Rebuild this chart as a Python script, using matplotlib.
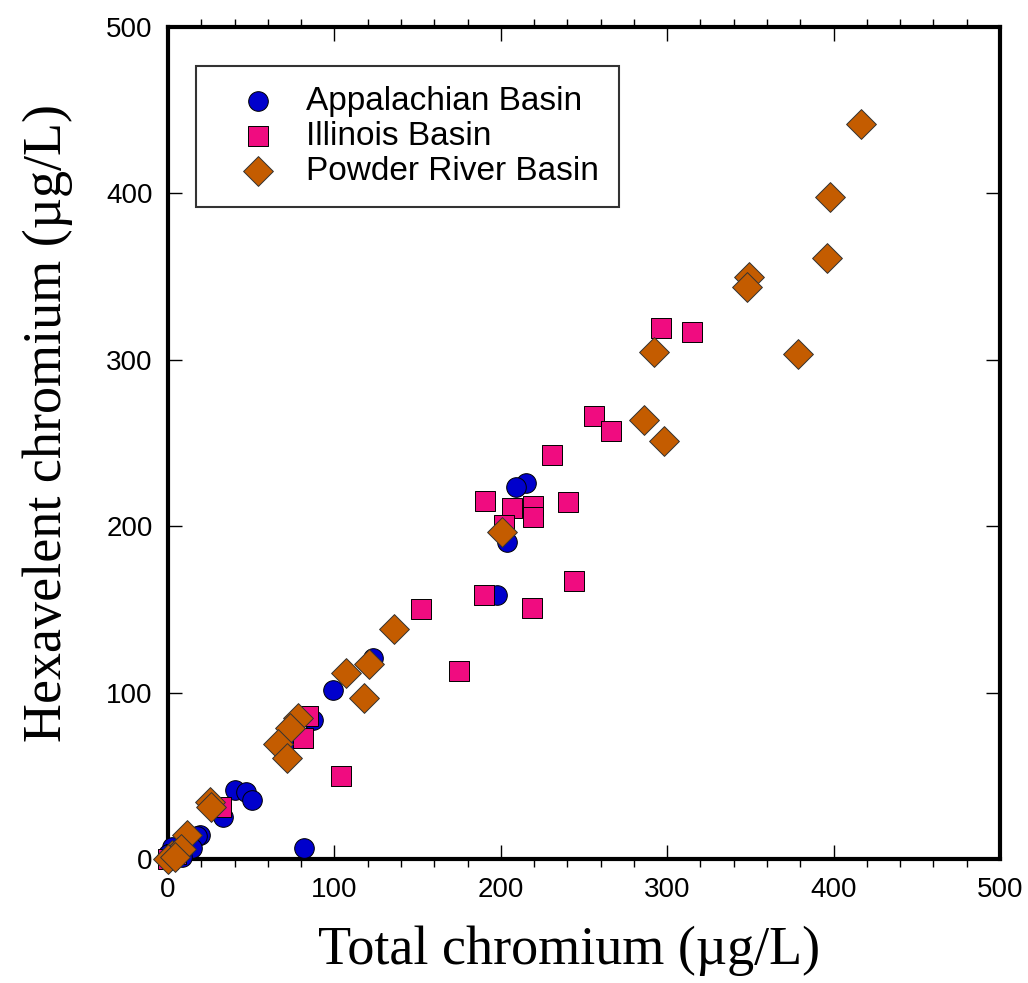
import numpy as np
import matplotlib.pyplot as plt
from matplotlib.ticker import MultipleLocator

# Данные: общий и шестивалентный хром (мкг/л)
app_total = [215, 209, 204, 198, 123, 99, 87, 72, 40, 47, 50.5, 33, 19, 17.5, 14.5, 82, 2.5, 8.5, 0]
app_hex = [226, 223.5, 190.5, 158.6, 121, 101.5, 83.5, 71.5, 41.5, 40, 35.5, 25, 14.5, 14, 6.5, 6.5, 7, 1, 3]

ill_total = [296, 315, 256, 266, 231, 190.5, 207, 219.5, 219.5, 240.5, 202, 190, 244, 219, 152,
             175, 104, 84, 81, 32, 0, 5]
ill_hex = [319, 317, 266, 257, 243, 215, 211, 212, 205.5, 214.5, 200.5, 158.6, 167, 151, 150,
           113, 50, 86, 73, 31, 0, 3]

prb_total = [416.5, 398, 396, 349, 348, 378.5, 292, 286, 298, 201, 107, 121, 118, 136, 78, 73.5,
             66, 71.5, 25, 26, 11.5, 2.5, 6, 8, 0, 4]
prb_hex = [442, 398, 361, 350, 344, 303.5, 305, 264, 251, 196.5, 112, 117, 97, 138, 85, 79,
           69, 61, 34, 31, 14.5, 2.5, 4, 6, 0, 1]

fig = plt.figure(figsize=(10.28, 9.83), dpi=100)
ax = fig.add_axes([0.1634, 0.1261, 0.8094, 0.8464])

ax.scatter(app_total, app_hex, s=200, marker='o', facecolor='#0000CC', edgecolor='black',
           linewidth=0.7, label='Appalachian Basin', clip_on=False, zorder=3)
ax.scatter(ill_total, ill_hex, s=190, marker='s', facecolor='#F00C80', edgecolor='black',
           linewidth=0.7, label='Illinois Basin', clip_on=False, zorder=4)
ax.scatter(prb_total, prb_hex, s=230, marker='D', facecolor='#C45C00', edgecolor='#333333',
           linewidth=0.7, label='Powder River Basin', clip_on=False, zorder=5)

ax.set_xlim(0, 500)
ax.set_ylim(0, 500)
ax.xaxis.set_major_locator(MultipleLocator(100))
ax.xaxis.set_minor_locator(MultipleLocator(20))
ax.yaxis.set_major_locator(MultipleLocator(100))

for sp in ax.spines.values():
    sp.set_linewidth(3)

ax.tick_params(which='major', direction='in', length=10, width=1, top=True, right=True,
               labelsize=20)
ax.tick_params(axis='x', which='major', pad=13)
ax.tick_params(axis='y', which='major', pad=11)
ax.tick_params(axis='x', which='minor', direction='out', length=6, width=1, top=True, bottom=True)

for lab in ax.get_xticklabels() + ax.get_yticklabels():
    lab.set_family('Liberation Sans')

ax.set_xlabel('Total chromium (µg/L)', family='Liberation Serif', fontsize=39, labelpad=16)
ax.set_ylabel('Hexavelent chromium (µg/L)', family='Liberation Serif', fontsize=39, labelpad=24)
ax.xaxis.label.set_x(0.482)
ax.yaxis.label.set_y(0.524)

leg = ax.legend(loc='upper left', bbox_to_anchor=(0.0337, 0.953),
                prop={'family': 'Liberation Sans', 'size': 24},
                frameon=True, fancybox=False, edgecolor='black', borderpad=0.6,
                handlelength=2.5, handletextpad=0.2, labelspacing=0.12, borderaxespad=0)
leg.get_frame().set_linewidth(1.5)

fig.savefig('out.png', dpi=100)
